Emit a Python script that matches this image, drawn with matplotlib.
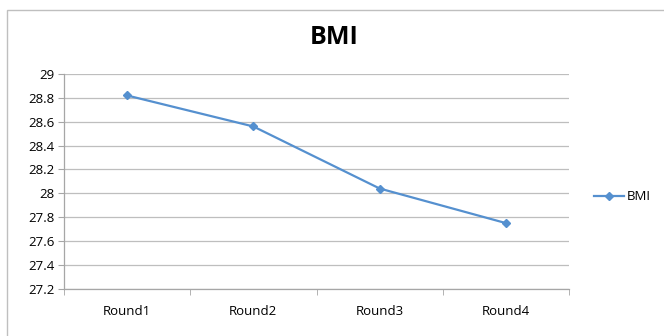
import matplotlib
matplotlib.use('Agg')
import matplotlib.pyplot as plt
from matplotlib.patches import Rectangle
import numpy as np

### data
rounds = ['Round1', 'Round2', 'Round3', 'Round4']
bmi = [28.82, 28.56, 28.04, 27.75]
yticks = [27.2, 27.4, 27.6, 27.8, 28.0, 28.2, 28.4, 28.6, 28.8, 29.0]
ytick_labels = ['27.2', '27.4', '27.6', '27.8', '28', '28.2', '28.4', '28.6', '28.8', '29']

plt.rcParams['font.family'] = ['Open Sans', 'DejaVu Sans']
blue = '#5590CF'
grid_gray = '#BEBEBE'

fig = plt.figure(figsize=(6.64, 3.36), dpi=100)

# chart frame
fig.patches.append(Rectangle((7/664, -0.1), 1.2, 1 - 10/336 + 0.1, transform=fig.transFigure,
                             fill=False, edgecolor='#BFBFBF', linewidth=1.0))

ax = fig.add_axes([64/664, (336-288.7)/336, (569-64)/664, (288.7-74)/336])
x = np.arange(len(rounds))
ax.plot(x, bmi, color=blue, linewidth=1.6, marker='D', markersize=4.5,
        markerfacecolor=blue, markeredgecolor=blue, label='BMI')

ax.set_xlim(-0.5, len(rounds) - 0.5)
ax.set_ylim(27.2, 29.0)
ax.set_yticks(yticks)
ax.set_yticklabels(ytick_labels, fontsize=9.5)
ax.set_xticks(x)
ax.set_xticklabels(rounds, fontsize=9.5)
ax.set_xticks(np.arange(-0.5, len(rounds)), minor=True)

ax.grid(axis='y', color=grid_gray, linewidth=0.9)
ax.set_axisbelow(True)
for s in ['top', 'right']:
    ax.spines[s].set_visible(False)
for s in ['left', 'bottom']:
    ax.spines[s].set_color('#A6A6A6')
    ax.spines[s].set_linewidth(0.9)

ax.tick_params(axis='y', direction='out', length=4, color='#A6A6A6', pad=3)
ax.tick_params(axis='x', which='major', length=0, pad=12)
ax.tick_params(axis='x', which='minor', direction='out', length=4, color='#A6A6A6')

fig.text(334/664, 1 - 38/336, 'BMI', ha='center', va='center', fontsize=18, fontweight='bold')

fig.legend(loc='center left', bbox_to_anchor=(582/664, 1 - 197/336), frameon=False,
           fontsize=9.5, handlelength=2.3, handletextpad=0.2)

fig.savefig('out.png', dpi=100)
